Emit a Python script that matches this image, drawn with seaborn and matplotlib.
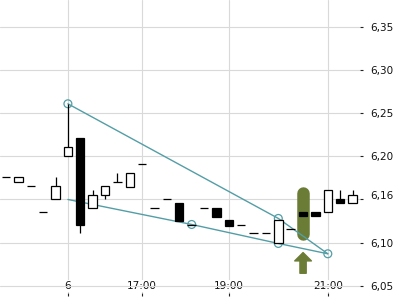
import matplotlib
matplotlib.use("Agg")
import matplotlib.pyplot as plt
import seaborn as sns
import numpy as np
import pandas as pd

# ---- data ----
opens  = [6.176, 6.170, 6.166, 6.135, 6.150, 6.200, 6.221, 6.140, 6.155, 6.170,
          6.165, 6.191, 6.140, 6.150, 6.146, 6.120, 6.140, 6.140, 6.126, 6.120,
          6.111, 6.111, 6.100, 6.116, 6.136, 6.136, 6.135, 6.151, 6.146]
highs  = [6.176, 6.176, 6.166, 6.135, 6.176, 6.261, 6.221, 6.161, 6.166, 6.181,
          6.181, 6.191, 6.140, 6.150, 6.146, 6.120, 6.140, 6.140, 6.126, 6.120,
          6.111, 6.111, 6.126, 6.116, 6.136, 6.136, 6.161, 6.161, 6.161]
lows   = [6.176, 6.170, 6.166, 6.135, 6.150, 6.200, 6.111, 6.140, 6.151, 6.170,
          6.165, 6.191, 6.140, 6.150, 6.125, 6.120, 6.140, 6.130, 6.119, 6.120,
          6.111, 6.111, 6.100, 6.116, 6.131, 6.131, 6.135, 6.146, 6.146]
closes = [6.176, 6.176, 6.166, 6.135, 6.166, 6.211, 6.120, 6.155, 6.166, 6.170,
          6.181, 6.191, 6.140, 6.150, 6.125, 6.120, 6.140, 6.130, 6.119, 6.120,
          6.111, 6.111, 6.126, 6.116, 6.131, 6.131, 6.161, 6.146, 6.1555]

x_tick_pos = [5, 11, 18, 26]
x_tick_labels = ["6", "17:00", "19:00", "21:00"]
y_ticks = [6.05, 6.10, 6.15, 6.20, 6.25, 6.30, 6.35]

upper_x = [5, 22, 26]
upper_y = [6.261, 6.128, 6.087]
lower_x = [5, 15, 22, 26]
lower_y = [6.150, 6.121, 6.099, 6.087]
circle_x = [5, 15, 22, 22, 26]
circle_y = [6.261, 6.121, 6.128, 6.099, 6.087]

signal_x = 24
signal_top, signal_bottom = 6.1644, 6.1023
arrow_top, arrow_bottom = 6.0884, 6.0644

TEAL = "#539ea6"
OLIVE = "#6a7c35"
GRID = "#d9d9d9"

sns.set_theme(style="whitegrid")
plt.rcParams["font.family"] = ["DejaVu Sans"]

fig = plt.figure(figsize=(4, 3), dpi=100)
ax = fig.add_axes([0, 7 / 300, 0.9, 293 / 300])
ax.set_facecolor("white")

idx = np.arange(len(opens))
df = pd.DataFrame({"i": idx, "open": opens, "high": highs, "low": lows, "close": closes})

# signal pill
pill_w_px = 12.5
r = pill_w_px / 2 / 860.0
ax.plot([signal_x, signal_x], [signal_top - r, signal_bottom + r], color=OLIVE,
        lw=pill_w_px * 72 / 100, solid_capstyle="round", zorder=1.5)
ax.annotate("", xy=(signal_x, arrow_top), xytext=(signal_x, arrow_bottom),
            arrowprops=dict(arrowstyle="simple,head_width=1.2,head_length=0.6,tail_width=0.45",
                            mutation_scale=10, color=OLIVE, shrinkA=0, shrinkB=0), zorder=1.5)

# trend lines
sns.lineplot(x=upper_x, y=upper_y, sort=False, estimator=None, color=TEAL, lw=1.0, ax=ax, zorder=2)
sns.lineplot(x=lower_x, y=lower_y, sort=False, estimator=None, color=TEAL, lw=1.0, ax=ax, zorder=2)
sns.scatterplot(x=circle_x, y=circle_y, s=32, facecolor="none", edgecolor=TEAL, linewidth=0.9,
                ax=ax, zorder=2.5)

# candlesticks
w = 0.68
ax.vlines(df["i"], df["low"], df["high"], color="black", lw=0.9, zorder=3)
for _, row in df.iterrows():
    o, c = row["open"], row["close"]
    down = c < o
    bottom = min(o, c)
    h = abs(c - o)
    ax.bar(row["i"], h, bottom=bottom, width=w, color="black" if down else "white",
           edgecolor="black", linewidth=0.9, zorder=3.2)

ax.set_xlim(-0.485, 28.6)
ax.set_ylim(6.0415, 6.3814)

ax.set_xticks(x_tick_pos)
ax.set_xticklabels(x_tick_labels)
ax.set_yticks(y_ticks)
ax.set_yticklabels(["" if abs(v - 6.15) < 1e-9 else f"{v:.2f}".replace(".", ",") for v in y_ticks])
ax.set_yticks([closes[-1]], minor=True)
ax.set_yticklabels([f"{closes[-1]:.2f}".replace(".", ",")], minor=True)
ax.yaxis.tick_right()

ax.grid(True, which="major", color=GRID, lw=0.8)
ax.grid(False, which="minor")
ax.set_axisbelow(True)
for s in ax.spines.values():
    s.set_visible(False)

ax.tick_params(axis="y", which="major", right=True, length=2.4, width=0.8, color="#222222",
               pad=4.8, labelsize=7.5, labelcolor="#111111")
ax.tick_params(axis="y", which="minor", right=True, length=0, pad=7.2, labelsize=7.5,
               labelcolor="#111111")
ax.tick_params(axis="x", bottom=True, direction="out", length=2.5, width=0.8, color="#222222",
               pad=-11, labelsize=7.5, labelcolor="#111111")
for lab in ax.get_xticklabels():
    lab.set_bbox(dict(facecolor="white", edgecolor="none", pad=0.5))
ax.set_xlabel("")
ax.set_ylabel("")

fig.savefig("out.png", dpi=100)
